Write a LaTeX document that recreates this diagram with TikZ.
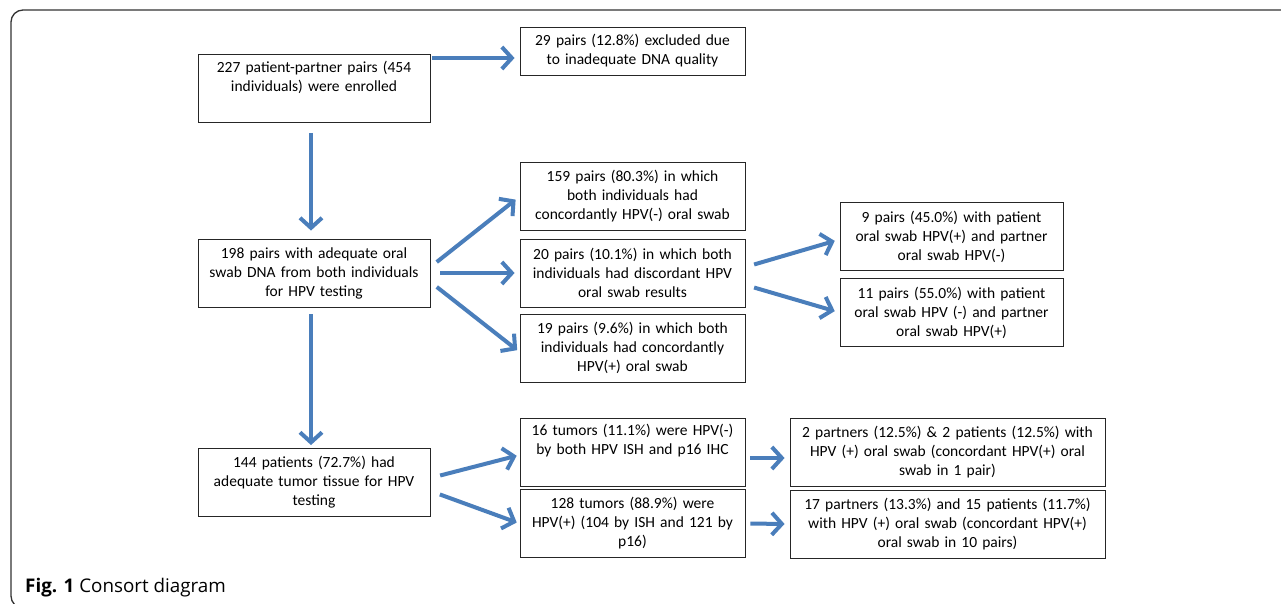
\documentclass[tikz,border=0pt]{standalone}
\usepackage{fontspec}
\setmainfont{Carlito}
\newfontfamily\capfont{Open Sans}
\usepackage{tikz}
\usetikzlibrary{arrows.meta, positioning}

\definecolor{arrowblue}{HTML}{4A7EBB}

\begin{document}
\begin{tikzpicture}[
  x=1pt, y=-1pt,
  box/.style={draw=black!85, line width=0.9pt, fill=white, inner xsep=0pt, inner ysep=2pt,
    text width=225pt, minimum height=68pt, align=center, font=\fontsize{15.5}{19}\selectfont},
  arrow/.style={draw=arrowblue, line width=4pt, -{Straight Barb[length=10pt, width=22pt]}},
]
  \useasboundingbox (0,0) rectangle (1281,603);
  \clip (0,0) rectangle (1281,603);
  \draw[black!80, line width=1.3pt, rounded corners=12pt] (11,10) rectangle (1300,608);

  \node (enrol) [box, text width=232pt] at (314,88.5) {227 patient-partner pairs (454\\individuals) were enrolled\\ \strut};
  \node (excl) [box, minimum height=48pt] at (632.5,51) {29 pairs (12.8\%) excluded due\\to inadequate DNA quality};
  \node (adeq) [box, text width=232pt] at (314,273) {198 pairs with adequate oral\\swab DNA from both individuals\\for HPV testing};
  \node (neg) [box] at (632.5,196.5) {159 pairs (80.3\%) in which\\both individuals had\\concordantly HPV(-) oral swab};
  \node (disc) [box] at (632.5,273) {20 pairs (10.1\%) in which both\\individuals had discordant HPV\\oral swab results};
  \node (pos) [box] at (632.5,348) {19 pairs (9.6\%) in which both\\individuals had concordantly\\HPV(+) oral swab};
  \node (patpos) [box, text width=223pt] at (951.5,236.5) {9 pairs (45.0\%) with patient\\oral swab HPV(+) and partner\\oral swab HPV(-)};
  \node (partpos) [box, text width=223pt] at (951.5,312.5) {11 pairs (55.0\%) with patient\\oral swab HPV (-) and partner\\oral swab HPV(+)};
  \node (tissue) [box, text width=232pt] at (314,482.5) {144 patients (72.7\%) had\\adequate tumor tissue for HPV\\testing};
  \node (tneg) [box] at (632.5,452) {16 tumors (11.1\%) were HPV(-)\\by both HPV ISH and p16 IHC\\ \strut};
  \node (tpos) [box] at (632.5,523.5) {128 tumors (88.9\%) were\\HPV(+) (104 by ISH and 121 by\\p16)};
  \node (tnegswab) [box, text width=315pt] at (947.5,452.5) {2 partners (12.5\%) \& 2 patients (12.5\%) with\\HPV (+) oral swab (concordant HPV(+) oral\\swab in 1 pair)};
  \node (tposswab) [box, text width=315pt] at (947.5,524) {17 partners (13.3\%) and 15 patients (11.7\%)\\with HPV (+) oral swab (concordant HPV(+)\\oral swab in 10 pairs)};

  \node (cap) [anchor=base west, inner sep=0pt, font=\capfont\fontsize{18.8}{22}\selectfont] at (25,592) {\textbf{Fig. 1} Consort diagram};

  \draw[arrow, shorten <=2pt, shorten >=5pt] ([yshift=30.5pt]enrol.east) -- ([yshift=-7pt]excl.west);
  \draw[arrow, shorten <=10pt, shorten >=8pt] ([xshift=-3pt]enrol.south) -- ([xshift=-3pt]adeq.north);
  \draw[arrow, shorten <=8pt, shorten >=5pt] ([yshift=6pt]adeq.east) -- (neg.west);
  \draw[arrow, shorten <=10pt, shorten >=5pt] (adeq.east) -- (disc.west);
  \draw[arrow, shorten <=8pt, shorten >=3pt] ([yshift=-9pt]adeq.east) -- ([yshift=-4pt]pos.west);
  \draw[arrow, shorten <=9pt, shorten >=5pt] ([yshift=6pt]disc.east) -- ([yshift=-3pt]patpos.west);
  \draw[arrow, shorten <=9pt, shorten >=5pt] ([yshift=-12pt]disc.east) -- (partpos.west);
  \draw[arrow, shorten <=7pt, shorten >=3pt] ([xshift=-3pt]adeq.south) -- ([xshift=-3pt]tissue.north);
  \draw[arrow, shorten <=10pt, shorten >=3pt] ([yshift=4.5pt]tissue.east) -- ([yshift=-3pt]tneg.west);
  \draw[arrow, shorten <=10pt, shorten >=3pt] ([yshift=-8.5pt]tissue.east) -- (tpos.west);
  \draw[arrow, shorten <=5pt, shorten >=5pt] ([yshift=-6pt]tneg.east) -- ([yshift=-5.5pt]tnegswab.west);
  \draw[arrow, shorten <=5pt, shorten >=5pt] (tpos.east) -- (tposswab.west);
\end{tikzpicture}
\end{document}
